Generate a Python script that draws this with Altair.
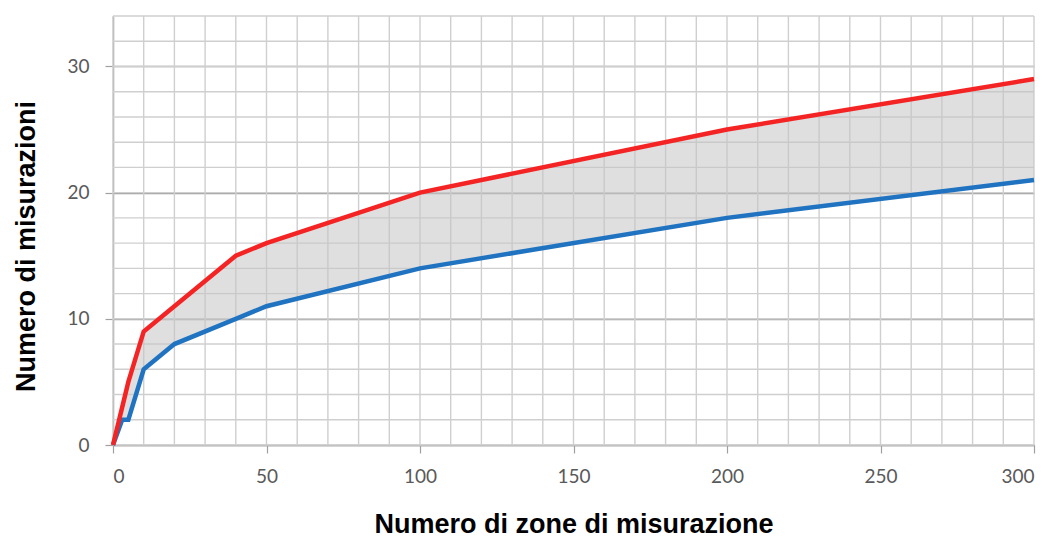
import altair as alt
import pandas as pd

# Data
zones = [0, 3, 5, 10, 20, 40, 50, 100, 200, 300]
blue_vals = [0, 2, 2, 6, 8, 10, 11, 14, 18, 21]
red_vals = [0, 3, 5, 9, 11, 15, 16, 20, 25, 29]

x_grid = list(range(0, 301, 10))
y_grid = list(range(0, 35, 2))
x_ticks = [0, 50, 100, 150, 200, 250, 300]
y_ticks = [0, 10, 20, 30]

wide = pd.DataFrame({"zones": zones, "blu": blue_vals, "rosso": red_vals})
xg = pd.DataFrame({"zones": x_grid})
yg = pd.DataFrame({"val": y_grid})

xs = alt.Scale(domain=[0, 300], nice=False, zero=True)
ys = alt.Scale(domain=[0, 34], nice=False, zero=True)

x_axis = alt.Axis(
    values=x_ticks, grid=False, domain=True, domainColor="#a0a0a0", domainWidth=1.5,
    ticks=True, tickSize=8, tickColor="#a0a0a0", tickWidth=1.2,
    labelFont="Lato", labelFontSize=19, labelColor="#595959", labelPadding=14,
    title="Numero di zone di misurazione", titleFont="Liberation Sans",
    titleFontSize=27, titleFontWeight="bold", titleColor="#000000", titlePadding=25,
)
y_axis = alt.Axis(
    values=y_ticks, grid=True, gridColor="#a0a0a0", gridWidth=1.3,
    domain=True, domainColor="#a0a0a0", domainWidth=1.5,
    ticks=True, tickSize=8, tickColor="#a0a0a0", tickWidth=1.2,
    labelFont="Lato", labelFontSize=19, labelColor="#595959", labelPadding=16,
    title="Numero di misurazioni", titleFont="Liberation Sans",
    titleFontSize=27, titleFontWeight="bold", titleColor="#000000", titlePadding=26,
    titleY=230,
)

vgrid = alt.Chart(xg).mark_rule(color="#cfcfcf", strokeWidth=1.4).encode(
    x=alt.X("zones:Q", scale=xs, axis=x_axis)
)
hgrid = alt.Chart(yg).mark_rule(color="#cfcfcf", strokeWidth=1.4).encode(
    y=alt.Y("val:Q", scale=ys, axis=y_axis)
)

band = alt.Chart(wide).mark_area(color="#c4c4c4", opacity=0.55, interpolate="linear").encode(
    x=alt.X("zones:Q", scale=xs, axis=x_axis),
    y=alt.Y("blu:Q", scale=ys, axis=y_axis),
    y2="rosso:Q",
)

blue_line = alt.Chart(wide).mark_line(color="#1f73c1", strokeWidth=4.5).encode(
    x=alt.X("zones:Q", scale=xs, axis=x_axis),
    y=alt.Y("blu:Q", scale=ys, axis=y_axis),
)
red_line = alt.Chart(wide).mark_line(color="#f52424", strokeWidth=4.5).encode(
    x=alt.X("zones:Q", scale=xs, axis=x_axis),
    y=alt.Y("rosso:Q", scale=ys, axis=y_axis),
)

chart = alt.layer(vgrid, hgrid, band, blue_line, red_line).properties(
    width=921, height=429,
    padding={"left": 4, "top": 7, "right": 3, "bottom": 0},
).configure_view(stroke=None)

chart.save("out.html", embed_options={"renderer": "svg", "actions": False})
